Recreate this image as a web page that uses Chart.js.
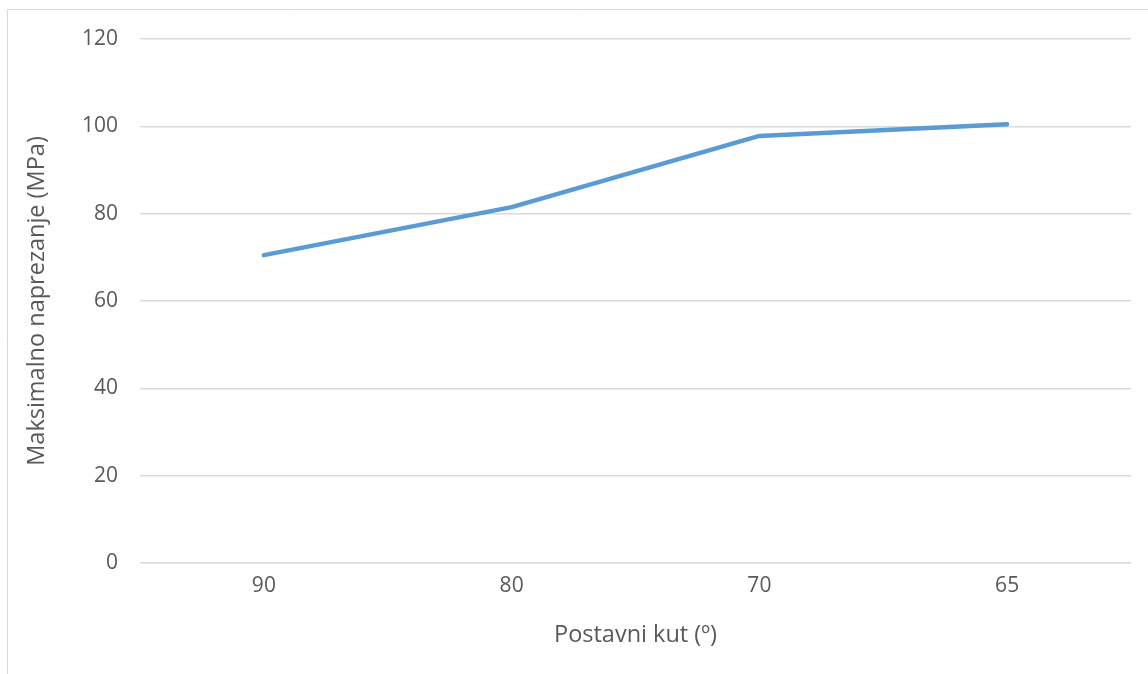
<!DOCTYPE html>
<html>
<head>
<meta charset="utf-8">
<script src="https://cdn.jsdelivr.net/npm/chart.js@4"></script>
<style>
  html, body { margin: 0; padding: 0; background: #fff; }
  #wrap { width: 1148px; height: 674px; position: relative; }
</style>
</head>
<body>
<div id="wrap"><canvas id="chart" width="1148" height="674"></canvas></div>
<script>
const angles = ['90', '80', '70', '65'];
const maxStress = [70.5, 81.5, 97.8, 100.5];
const yTicks = [0, 20, 40, 60, 80, 100, 120];

const FONT = 'Open Sans, sans-serif';
const TXT = '#595959';

// outer chart frame (left + top edges visible in the reference)
const framePlugin = {
    id: 'frame',
    beforeDraw(chart) {
        const { ctx } = chart;
        ctx.save();
        ctx.strokeStyle = '#d9d9d9';
        ctx.lineWidth = 1;
        ctx.beginPath();
        ctx.moveTo(7.5, 674);
        ctx.lineTo(7.5, 9.5);
        ctx.lineTo(1148, 9.5);
        ctx.stroke();
        ctx.restore();
    },
};

new Chart(document.getElementById('chart'), {
    type: 'line',
    plugins: [framePlugin],
    data: {
        labels: angles,
        datasets: [{
            data: maxStress,
            borderColor: '#5b9bd5',
            borderWidth: 4.5,
            borderCapStyle: 'round',
            borderJoinStyle: 'round',
            pointRadius: 0,
            tension: 0,
            fill: false,
        }],
    },
    options: {
        responsive: false,
        animation: false,
        layout: { padding: { top: 39, right: 17, left: 0, bottom: 0 } },
        plugins: { legend: { display: false }, tooltip: { enabled: false } },
        scales: {
            x: {
                offset: true,
                grid: { display: false },
                border: { display: false },
                ticks: { color: TXT, padding: 2, font: { family: FONT, size: 21 } },
                title: { display: true, text: 'Postavni kut (º)', color: TXT, padding: { top: 0, bottom: 25 }, font: { family: FONT, size: 23.5 } },
                afterFit(scale) { scale.height = 111; },
            },
            y: {
                min: 0,
                max: 120,
                afterBuildTicks(scale) { scale.ticks = yTicks.map((v) => ({ value: v })); },
                grid: { color: '#d9d9d9', lineWidth: 1.5, drawTicks: false },
                border: { display: false },
                ticks: { color: TXT, padding: 22, font: { family: FONT, size: 21 } },
                title: { display: true, text: 'Maksimalno naprezanje (MPa)', color: TXT, padding: { top: 23, bottom: 0 }, font: { family: FONT, size: 23.5 } },
                afterFit(scale) { scale.width = 140; },
            },
        },
    },
});
</script>
</body>
</html>
